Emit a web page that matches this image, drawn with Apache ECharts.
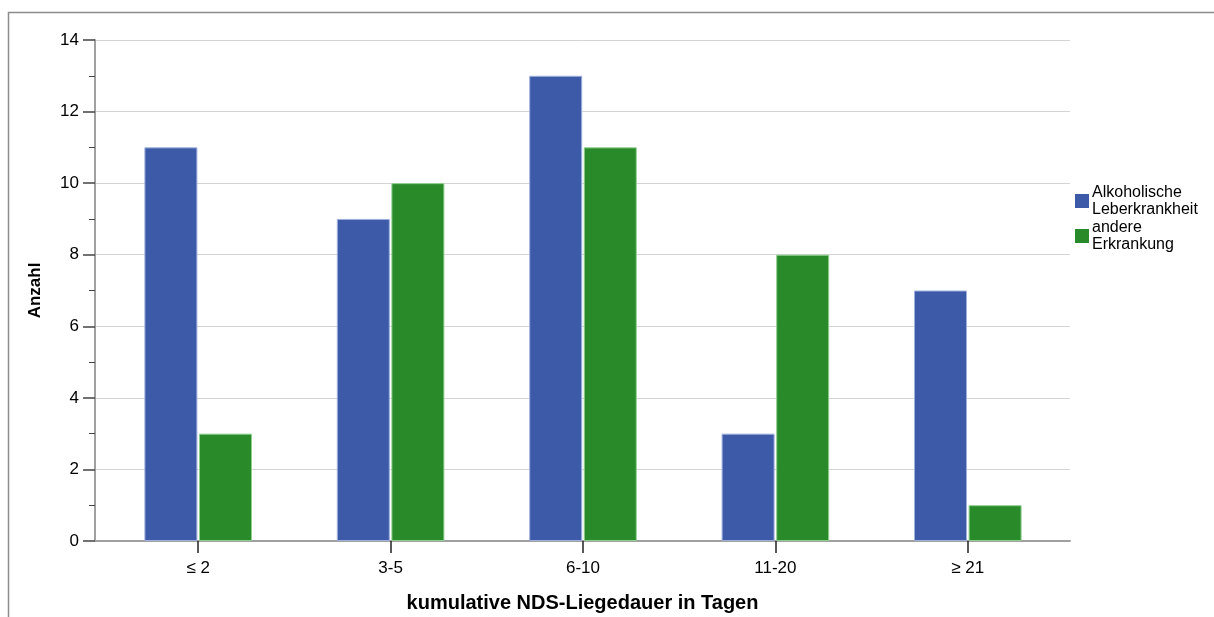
<!DOCTYPE html>
<html><head><meta charset="utf-8">
<script src="https://cdn.jsdelivr.net/npm/echarts@6/dist/echarts.min.js"></script>
<style>html,body{margin:0;padding:0;background:#fff}#c{width:1214px;height:617px}</style>
</head><body><div id="c"></div>
<script>
const categories = ['≤ 2', '3-5', '6-10', '11-20', '≥ 21'];
const seriesNames = ['Alkoholische\nLeberkrankheit', 'andere\nErkrankung'];
const alkoholisch = [11, 9, 13, 3, 7];
const andere = [3, 10, 11, 8, 1];
const yTicks = {min: 0, max: 14, interval: 2};

const FONT = '"Liberation Sans", Arial, sans-serif';
const chart = echarts.init(document.getElementById('c'), null, {renderer: 'canvas'});
chart.setOption({
  animation: false,
  backgroundColor: '#fff',
  textStyle: {fontFamily: FONT},
  graphic: [{
    type: 'polyline', silent: true, z: 0,
    shape: {points: [[8.5, 640], [8.5, 12.5], [1230, 12.5]]},
    style: {stroke: '#8c8c8c', lineWidth: 1.5, fill: null}
  }],
  legend: {
    orient: 'vertical', left: 1070, top: 179,
    itemWidth: 14, itemHeight: 14, itemGap: 1,
    icon: 'rect',
    itemStyle: {borderWidth: 0},
    textStyle: {fontFamily: FONT, fontSize: 16, color: '#000', lineHeight: 17, padding: [0, 0, 0, -2]},
    data: seriesNames
  },
  grid: [
    {left: 95, right: 144, top: 40, bottom: 76, outerBoundsMode: 'none'},
    {left: 102, right: 150, top: 40, bottom: 76, outerBoundsMode: 'none'}
  ],
  xAxis: [
    {type: 'value', gridIndex: 0, min: 0, max: 1,
     axisLine: {show: true, onZero: false, lineStyle: {color: '#a0a0a0', width: 2}},
     axisTick: {show: false}, axisLabel: {show: false}, splitLine: {show: false},
     name: 'kumulative NDS-Liegedauer in Tagen', nameLocation: 'middle', nameGap: 52,
     nameTextStyle: {fontFamily: FONT, fontSize: 20, fontWeight: 'bold', color: '#000'}},
    {type: 'category', gridIndex: 1, data: categories,
     axisLine: {show: false},
     axisTick: {show: true, alignWithLabel: true, length: 12, lineStyle: {color: '#222', width: 1.5}},
     axisLabel: {fontFamily: FONT, fontSize: 17, color: '#000', margin: 19},
     splitLine: {show: false}}
  ],
  yAxis: [
    {type: 'value', gridIndex: 0, min: yTicks.min, max: yTicks.max, interval: yTicks.interval,
     axisLine: {show: true, lineStyle: {color: '#a0a0a0', width: 2}},
     axisTick: {show: true, length: 12, lineStyle: {color: '#444', width: 1.5}},
     minorTick: {show: true, splitNumber: 2, length: 6, lineStyle: {color: '#444', width: 1}},
     axisLabel: {fontFamily: FONT, fontSize: 17, color: '#000', margin: 16},
     splitLine: {show: true, lineStyle: {color: '#d4d4d4', width: 1}},
     name: 'Anzahl', nameLocation: 'middle', nameGap: 51,
     nameTextStyle: {fontFamily: FONT, fontSize: 17, fontWeight: 'bold', color: '#000'}},
    {type: 'value', gridIndex: 1, min: yTicks.min, max: yTicks.max, interval: yTicks.interval,
     show: false, splitLine: {show: false}}
  ],
  series: [
    {name: seriesNames[0], type: 'bar', xAxisIndex: 1, yAxisIndex: 1, data: alkoholisch,
     barWidth: 53, barGap: '3%',
     itemStyle: {color: '#3d5aa9', borderColor: '#9fb0dc', borderWidth: 1}},
    {name: seriesNames[1], type: 'bar', xAxisIndex: 1, yAxisIndex: 1, data: andere,
     barWidth: 53, barGap: '3%',
     itemStyle: {color: '#298a2a', borderColor: '#8fcf8f', borderWidth: 1}}
  ]
});
</script></body></html>
